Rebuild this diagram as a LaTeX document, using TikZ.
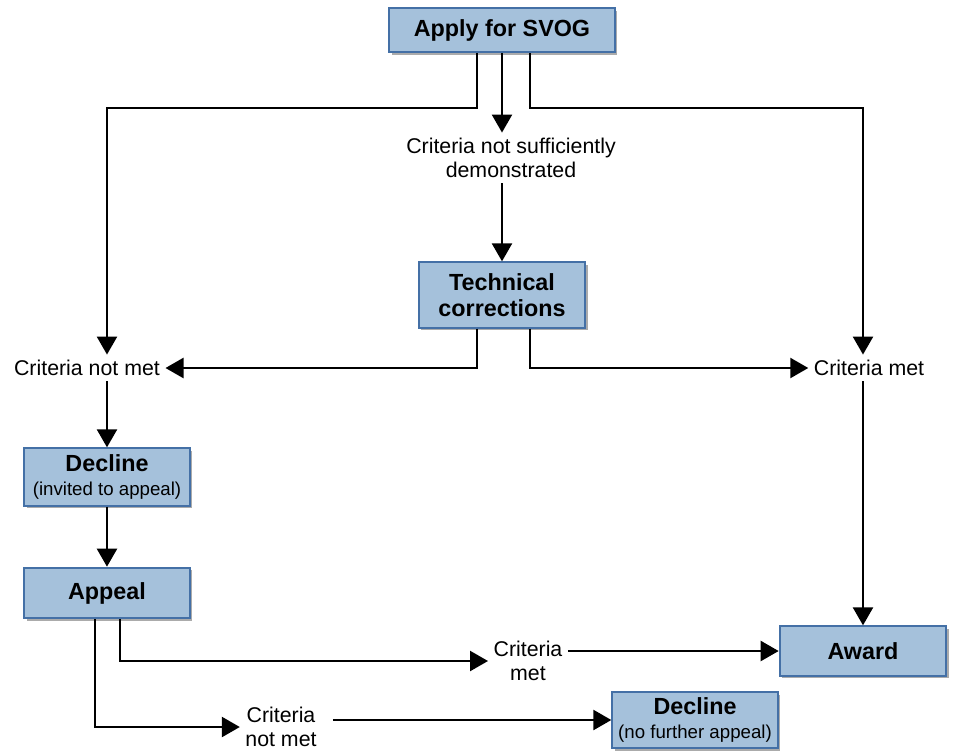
\documentclass[tikz,border=0pt]{standalone}
\usepackage{fontspec}
\setmainfont{Liberation Sans}
\usetikzlibrary{arrows.meta,shadows,calc,positioning}
\definecolor{boxfill}{RGB}{165,193,219}
\definecolor{boxline}{RGB}{68,112,166}
\newcommand{\bigtxt}{\fontsize{17.5}{19.5}\selectfont\bfseries}
\newcommand{\subtxt}{\fontsize{14}{16}\selectfont\mdseries}

\begin{document}
\begin{tikzpicture}
\tikzstyle{main}=[rectangle, draw=boxline, fill=boxfill, line width=1.5pt, minimum width=124pt, inner sep=2pt,
  align=center, font=\bigtxt, node distance=80pt,
  drop shadow={shadow xshift=2pt, shadow yshift=-2pt, fill=black!55, opacity=.6}]
\tikzstyle{crit}=[align=center, inner sep=4pt, font=\fontsize{16}{18}\selectfont, node distance=80pt]
\tikzstyle{connect}=[-{Triangle[length=13.5pt, width=15pt]}, line width=1.8pt]

  \useasboundingbox (-376.5pt,22.5pt) rectangle (338.25pt,-543pt);

  \node[main, minimum width=169pt, minimum height=33pt] (apply) {Apply for SVOG};

  \node[crit] (notsuff) [below of =apply, xshift=6.75pt, yshift=-16pt] {Criteria not sufficiently\\demonstrated};
  \node[main, minimum width=125pt, minimum height=49pt] (tech) [below of =apply, yshift=-118.75pt] {Technical\\corrections};

  \node[crit] (notmet) [left of =tech, xshift=-231.25pt, yshift=-54.75pt] {Criteria not met};
  \node[crit] (met)    [right of =tech, xshift=195.25pt, yshift=-54.75pt] {Criteria met};

  \node[main, minimum height=43pt] (decline) [below of =notmet, xshift=15pt, yshift=-1.75pt] {Decline\\[-1pt]{\subtxt (invited to appeal)}};
  \node[main, minimum height=38pt] (appeal)  [below of =decline, yshift=-7pt] {Appeal};

  \node[main, minimum width=125pt, minimum height=37pt] (award) [below of =met, xshift=-4.5pt, yshift=-132.25pt] {Award};

  \node[crit] (met2)    [right of =appeal, xshift=235.75pt, yshift=-51pt] {Criteria\\met};
  \node[crit] (notmet2) [right of =appeal, xshift=50.5pt, yshift=-100.5pt] {Criteria\\not met};
  \node[main, minimum height=42pt] (final) [right of =notmet2, xshift=230.5pt, yshift=5.25pt] {Decline\\[-1pt]{\subtxt (no further appeal)}};

  % from the application
  \draw[connect] ([xshift=-18.75pt]apply.south) -- ++(0,-41.25pt) -| (decline.north |- notmet.north);
  \draw[connect] (apply.south) -- (apply.south |- notsuff.north);
  \draw[connect] ([xshift=21pt]apply.south) -- ++(0,-41.25pt) -| (award.north |- met.north);
  \draw[connect] (tech.north |- notsuff.south) -- (tech.north);

  % from technical corrections
  \draw[connect] ([xshift=-18.75pt]tech.south) |- (notmet.east);
  \draw[connect] ([xshift=21pt]tech.south) |- (met.west);

  \draw[connect] (decline.north |- notmet.south) -- (decline.north);
  \draw[connect] (decline.south) -- (appeal.north);
  \draw[connect] (award.north |- met.south) -- (award.north);

  % from the appeal
  \draw[connect] ([xshift=9.75pt]appeal.south) |- (met2.west);
  \draw[connect] (met2.east |- award.west) -- (award.west);
  \draw[connect] ([xshift=-9pt]appeal.south) |- (notmet2.west);
  \draw[connect, shorten <=8pt] (notmet2.east |- final.west) -- (final.west);

\end{tikzpicture}
\end{document}
